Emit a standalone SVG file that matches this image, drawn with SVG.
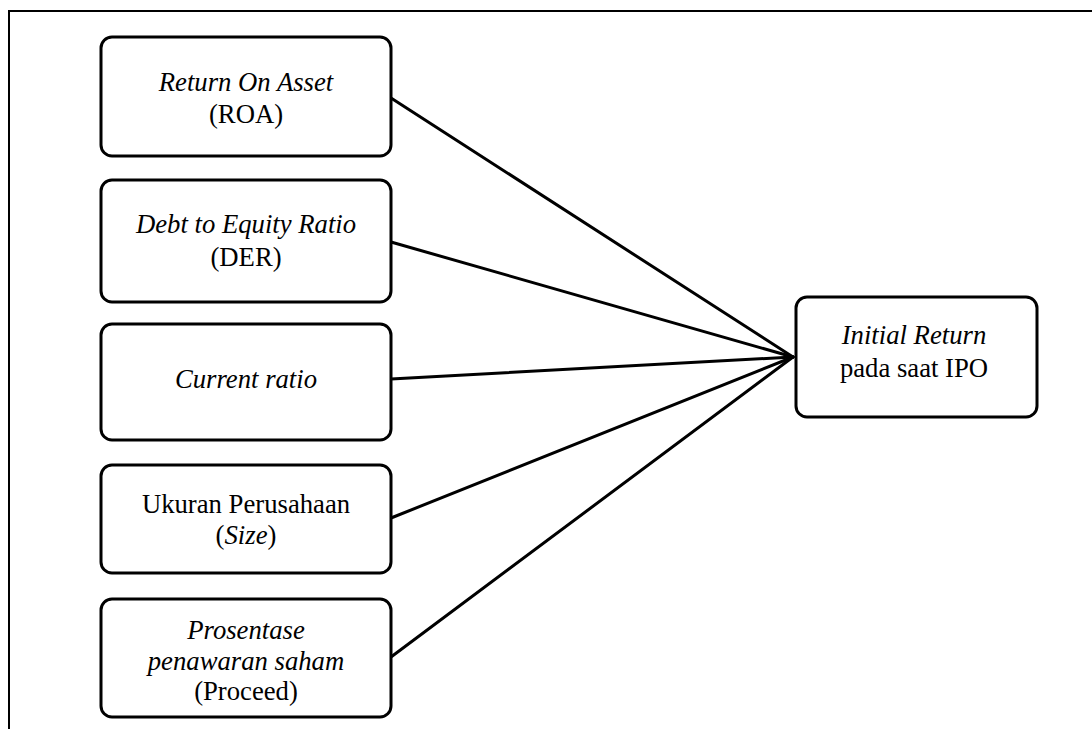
<svg xmlns="http://www.w3.org/2000/svg" width="1092" height="729" viewBox="0 0 1092 729">
<style>
.box{fill:#fff;stroke:#000;stroke-width:3}
.t{font-family:'Times New Roman','Liberation Serif',Times,'DejaVu Serif',serif;font-size:26.7px;fill:#000;text-anchor:middle}
.i{font-style:italic}
.c{stroke:#000;stroke-width:3;fill:none;stroke-linecap:round}
</style>
<rect width="1092" height="729" fill="#fff"/>
<path d="M9,729 V11 H1092" fill="none" stroke="#000" stroke-width="2"/>
<g id="connectors">
<line class="c" x1="391" y1="98" x2="793" y2="357"/>
<line class="c" x1="391" y1="242" x2="793" y2="357"/>
<line class="c" x1="391" y1="379" x2="793" y2="357"/>
<line class="c" x1="391" y1="518" x2="793" y2="357"/>
<line class="c" x1="391" y1="657" x2="793" y2="357"/>
</g>
<g id="roa">
<rect class="box" x="101" y="37" width="290" height="119" rx="11"/>
<text class="t i" x="246" y="91">Return On Asset</text>
<text class="t" x="246" y="123">(ROA)</text>
</g>
<g id="der">
<rect class="box" x="101" y="180" width="290" height="122" rx="11"/>
<text class="t i" x="246" y="233">Debt to Equity Ratio</text>
<text class="t" x="246" y="266">(DER)</text>
</g>
<g id="cr">
<rect class="box" x="101" y="324" width="290" height="116" rx="11"/>
<text class="t i" x="246" y="388">Current ratio</text>
</g>
<g id="size">
<rect class="box" x="101" y="465" width="290" height="108" rx="11"/>
<text class="t" x="246" y="513">Ukuran Perusahaan</text>
<text class="t" x="246" y="544">(<tspan class="i">Size</tspan>)</text>
</g>
<g id="proceed">
<rect class="box" x="101" y="599" width="290" height="118" rx="11"/>
<text class="t i" x="246" y="639">Prosentase</text>
<text class="t i" x="246" y="670">penawaran saham</text>
<text class="t" x="246" y="700">(Proceed)</text>
</g>
<g id="ir">
<rect class="box" x="796" y="297" width="241" height="120" rx="11"/>
<text class="t i" x="914" y="344">Initial Return</text>
<text class="t" x="914" y="377">pada saat IPO</text>
</g>
</svg>
